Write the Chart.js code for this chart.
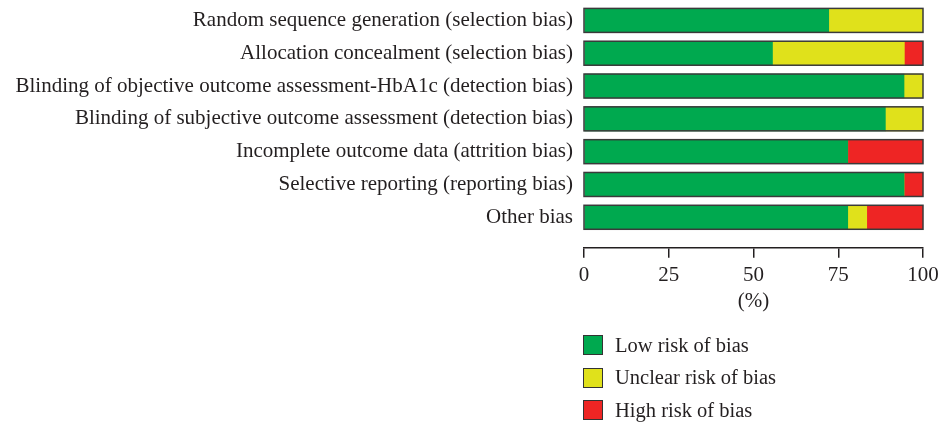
<!DOCTYPE html>
<html>
<head>
<meta charset="utf-8">
<script src="https://cdn.jsdelivr.net/npm/chart.js@4"></script>
<style>
  body { margin: 0; background: #fff; }
  #wrap { position: relative; width: 938px; height: 423px; }
  #legend { position: absolute; left: 583px; top: 329px; font-family: 'Liberation Serif', serif; font-size: 20.5px; color: #231f20; }
  .item { display: flex; align-items: center; height: 32.5px; }
  .box { width: 18px; height: 18px; border: 1.5px solid #333; margin-right: 12px; }
</style>
</head>
<body>
<div id="wrap">
  <canvas id="risk_chart" width="938" height="423"></canvas>
  <div id="legend"></div>
</div>
<script>
  const categories = [
    'Random sequence generation (selection bias)',
    'Allocation concealment (selection bias)',
    'Blinding of objective outcome assessment-HbA1c (detection bias)',
    'Blinding of subjective outcome assessment (detection bias)',
    'Incomplete outcome data (attrition bias)',
    'Selective reporting (reporting bias)',
    'Other bias'
  ];
  const lowRisk = [72.2, 55.6, 94.4, 88.9, 77.8, 94.4, 77.8];
  const unclearRisk = [27.8, 38.9, 5.6, 11.1, 0, 0, 5.6];
  const highRisk = [0, 5.5, 0, 0, 22.2, 5.6, 16.6];
  const xTicks = [0, 25, 50, 75, 100];

  Chart.defaults.font.family = "'Liberation Serif', serif";
  Chart.defaults.color = '#231f20';

  // outline round each whole stacked bar
  const barOutline = {
    id: 'barOutline',
    afterDatasetsDraw(chart) {
      const c = chart.ctx;
      const xs = chart.scales.x;
      const meta = chart.getDatasetMeta(0);
      c.save();
      c.strokeStyle = '#3a3a3a';
      c.lineWidth = 1.5;
      meta.data.forEach(bar => {
        const x0 = xs.getPixelForValue(0);
        const x1 = xs.getPixelForValue(100);
        c.strokeRect(x0, bar.y - bar.height / 2, x1 - x0, bar.height);
      });
      c.restore();
    }
  };

  const chart = new Chart(document.getElementById('risk_chart'), {
    type: 'bar',
    data: {
      labels: categories,
      datasets: [
        { label: 'Low risk of bias', data: lowRisk, backgroundColor: '#00a94f' },
        { label: 'Unclear risk of bias', data: unclearRisk, backgroundColor: '#e0e11b' },
        { label: 'High risk of bias', data: highRisk, backgroundColor: '#ee2524' }
      ]
    },
    options: {
      indexAxis: 'y',
      responsive: false,
      animation: false,
      layout: { padding: { top: 4, right: 15, bottom: 109, left: 0 } },
      datasets: { bar: { barThickness: 24, borderWidth: 0 } },
      plugins: { legend: { display: false }, tooltip: { enabled: false } },
      scales: {
        x: {
          stacked: true,
          min: 0,
          max: 100,
          afterBuildTicks: s => { s.ticks = xTicks.map(v => ({ value: v })); },
          afterFit: s => { s.paddingLeft = 0; s.paddingRight = 0; },
          grid: { display: true, drawOnChartArea: false, drawTicks: true, tickLength: 10, color: '#231f20', lineWidth: 1.5 },
          border: { display: true, color: '#231f20', width: 1.5 },
          ticks: { font: { size: 21, lineHeight: 1 }, padding: 7.5, maxRotation: 0 },
          title: { display: true, text: '(%)', font: { size: 21 }, padding: { top: -5, bottom: 0 } }
        },
        y: {
          stacked: true,
          // leave a gap between the last bar and the x axis
          afterBuildTicks: s => { s._valueRange += 0.43; },
          afterFit: s => { s.width = 584; s.paddingTop = 0; s.paddingBottom = 0; },
          grid: { display: false, drawTicks: false },
          border: { display: false },
          ticks: { font: { size: 21 }, padding: 11 }
        }
      }
    },
    plugins: [barOutline]
  });

  // legend as a vertical list under the axis
  const legend = document.getElementById('legend');
  chart.data.datasets.forEach(ds => {
    const row = document.createElement('div');
    row.className = 'item';
    const box = document.createElement('span');
    box.className = 'box';
    box.style.background = ds.backgroundColor;
    row.appendChild(box);
    row.appendChild(document.createTextNode(ds.label));
    legend.appendChild(row);
  });
</script>
</body>
</html>
